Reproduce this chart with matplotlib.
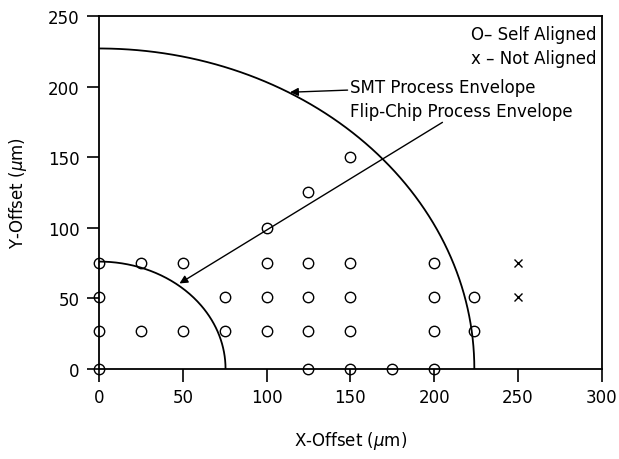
import numpy as np
import matplotlib
matplotlib.use('Agg')
import matplotlib.pyplot as plt

# Puntos auto-alineados (x, y) en micras
self_x = [0, 125, 150, 175, 200,
          0, 25, 50, 75, 100, 125, 150, 200, 224,
          0, 75, 100, 125, 150, 200, 224,
          0, 25, 50, 100, 125, 150, 200,
          100, 125, 150]
self_y = [0, 0, 0, 0, 0,
          27, 27, 27, 27, 27, 27, 27, 27, 27,
          51, 51, 51, 51, 51, 51, 51,
          75, 75, 75, 75, 75, 75, 75,
          100, 125, 150]

# Puntos no alineados
not_x = [250, 250]
not_y = [75, 51]

# Semiejes de las envolventes (x, y)
smt_env = (224, 227)
flip_env = (75.5, 76)

plt.rcParams['font.family'] = 'DejaVu Sans'
fig = plt.figure(figsize=(6.19, 4.6), dpi=100)
ax = fig.add_axes([0.16, 0.196, 0.812, 0.767])

t = np.linspace(0, np.pi / 2, 200)
for a, b in (smt_env, flip_env):
    ax.plot(a * np.cos(t), b * np.sin(t), color='black', lw=1.3)

ax.plot(self_x, self_y, 'o', mfc='none', mec='black', mew=1.0, ms=7.5,
        ls='none', clip_on=False, zorder=5)
ax.plot(not_x, not_y, 'x', color='black', mew=1.0, ms=6, ls='none')

arrow = dict(arrowstyle='-|>', color='black', lw=1.0, mutation_scale=12,
             shrinkA=0, shrinkB=0)
ax.annotate('SMT Process Envelope', xy=(114, 196), xytext=(150, 200),
            fontsize=12, va='center', ha='left', arrowprops=arrow)
ax.annotate('Flip-Chip Process Envelope', xy=(48, 60.5), xytext=(150, 183),
            fontsize=12, va='center', ha='left', arrowprops=arrow)

ax.text(297, 237, 'O\u2013 Self Aligned', fontsize=12, ha='right', va='center')
ax.text(297, 220, 'x \u2013 Not Aligned', fontsize=12, ha='right', va='center')

ax.set_xlim(0, 300)
ax.set_ylim(0, 250)
ax.set_xticks(range(0, 301, 50))
ax.set_yticks(range(0, 251, 50))
ax.tick_params(direction='out', length=9, width=1.2, labelsize=12, pad=5)
ax.spines['top'].set_visible(False)
for s in ('left', 'bottom', 'right'):
    ax.spines[s].set_linewidth(1.3)
ax.plot([0, 300], [250, 250], color='black', lw=1.3, clip_on=False)

ax.set_xlabel('X-Offset ($\\mu$m)', fontsize=12, labelpad=16)
ax.set_ylabel('Y-Offset ($\\mu$m)', fontsize=12, labelpad=14)

fig.savefig('out.png', dpi=100)
